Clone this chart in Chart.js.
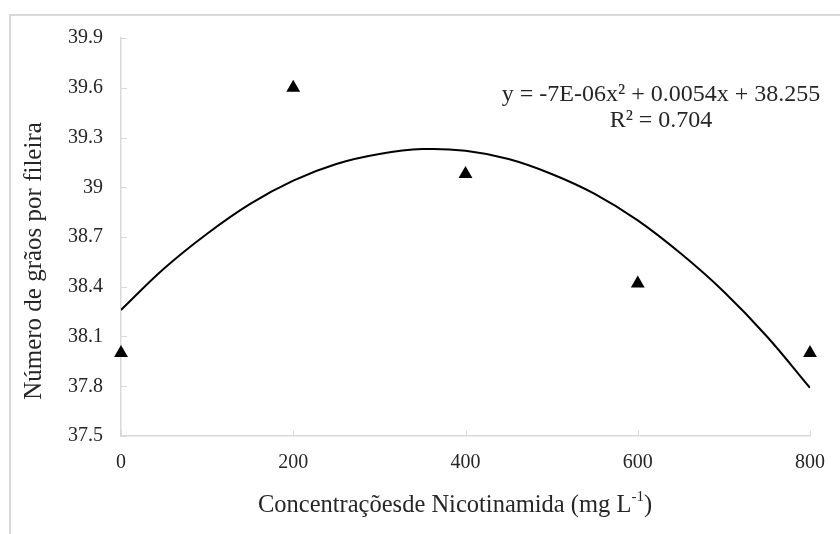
<!DOCTYPE html>
<html>
<head>
<meta charset="utf-8">
<script src="https://cdn.jsdelivr.net/npm/chart.js@4"></script>
<style>
  body { margin: 0; background: #fff; }
  #wrap { width: 840px; height: 534px; }
</style>
</head>
<body>
<div id="wrap"><canvas id="chart" width="840" height="534"></canvas></div>
<script>
// observed points
const doses = [0, 200, 400, 600, 800];
const graos = [38.0, 39.6, 39.08, 38.42, 38.0];

// trend curve
const curveX = [0, 50, 100, 150, 200, 250, 300, 350, 400, 450, 500, 550, 600, 650, 700, 750, 800];
const curveY = [38.26, 38.51, 38.72, 38.90, 39.04, 39.14, 39.20, 39.23, 39.22, 39.17, 39.08, 38.96, 38.80, 38.60, 38.37, 38.10, 37.79];

const yTicks = [37.5, 37.8, 38.1, 38.4, 38.7, 39.0, 39.3, 39.6, 39.9];

const serif = 'Liberation Serif';
const axisGray = '#d9d9d9';
const ink = '#262626';

Chart.defaults.font.family = serif;

// chart border, inner tick marks, titles and the equation
const extras = {
    id: 'extras',
    afterDraw(chart) {
        const ctx = chart.ctx;
        const area = chart.chartArea;
        const x = chart.scales.x;
        const y = chart.scales.y;
        ctx.save();

        ctx.strokeStyle = axisGray;
        ctx.lineWidth = 2;
        ctx.beginPath();
        ctx.moveTo(10, 534);
        ctx.lineTo(10, 15);
        ctx.lineTo(840, 15);
        ctx.stroke();

        ctx.lineWidth = 1;
        ctx.beginPath();
        y.ticks.forEach(t => {
            const py = Math.round(y.getPixelForValue(t.value)) + 0.5;
            ctx.moveTo(area.left, py);
            ctx.lineTo(area.left + 6, py);
        });
        x.ticks.forEach(t => {
            const px = Math.round(x.getPixelForValue(t.value)) + 0.5;
            ctx.moveTo(px, area.bottom);
            ctx.lineTo(px, area.bottom - 6);
        });
        ctx.stroke();

        ctx.fillStyle = ink;

        // y title
        ctx.save();
        ctx.translate(34, 261);
        ctx.rotate(-Math.PI / 2);
        ctx.font = '25px ' + serif;
        ctx.textAlign = 'center';
        ctx.textBaseline = 'middle';
        ctx.fillText('Número de grãos por fileira', 0, 0);
        ctx.restore();

        // x title with superscript
        ctx.textBaseline = 'alphabetic';
        ctx.textAlign = 'left';
        const main = 'Concentraçõesde Nicotinamida (mg L';
        ctx.font = '15px ' + serif;
        const supW = ctx.measureText('-1').width;
        ctx.font = '24.5px ' + serif;
        const mainW = ctx.measureText(main).width;
        const closeW = ctx.measureText(')').width;
        const sx = 455 - (mainW + supW + closeW) / 2;
        ctx.fillText(main, sx, 512);
        ctx.font = '15px ' + serif;
        ctx.fillText('-1', sx + mainW, 501);
        ctx.font = '24.5px ' + serif;
        ctx.fillText(')', sx + mainW + supW, 512);

        // regression equation
        ctx.font = '24px ' + serif;
        ctx.textAlign = 'center';
        ctx.textBaseline = 'middle';
        ctx.fillText('y = -7E-06x² + 0.0054x + 38.255', 661, 95);
        ctx.fillText('R² = 0.704', 661, 121);

        ctx.restore();
    }
};

const config = {
    type: 'scatter',
    data: {
        datasets: [{
            label: 'Número de grãos',
            data: doses.map((d, i) => ({ x: d, y: graos[i] })),
            pointStyle: 'triangle',
            pointRadius: 8,
            backgroundColor: '#000',
            borderColor: '#000',
            borderWidth: 0,
            showLine: false,
            clip: false
        }, {
            label: 'Polinomial',
            data: curveX.map((d, i) => ({ x: d, y: curveY[i] })),
            showLine: true,
            pointRadius: 0,
            borderColor: '#000',
            borderWidth: 2,
            tension: 0.4,
            fill: false
        }]
    },
    options: {
        responsive: false,
        animation: false,
        layout: {
            padding: { left: 0, right: 26, top: 38, bottom: 0 }
        },
        plugins: {
            legend: false,
            tooltip: false
        },
        scales: {
            x: {
                type: 'linear',
                min: 0,
                max: 800,
                afterFit: s => { s.height = 98; },
                ticks: {
                    stepSize: 200,
                    padding: 15,
                    color: ink,
                    font: { family: serif, size: 20 }
                },
                grid: { drawOnChartArea: false, drawTicks: false },
                border: { color: axisGray, width: 1.5 }
            },
            y: {
                type: 'linear',
                min: 37.5,
                max: 39.9,
                afterFit: s => { s.width = 121; },
                afterBuildTicks: s => { s.ticks = yTicks.map(v => ({ value: v })); },
                ticks: {
                    padding: 18,
                    color: ink,
                    font: { family: serif, size: 20 },
                    callback: v => String(+v.toFixed(1))
                },
                grid: { drawOnChartArea: false, drawTicks: false },
                border: { color: axisGray, width: 1.5 }
            }
        }
    },
    plugins: [extras]
};

var myChart = new Chart(document.getElementById('chart'), config);
</script>
</body>
</html>
